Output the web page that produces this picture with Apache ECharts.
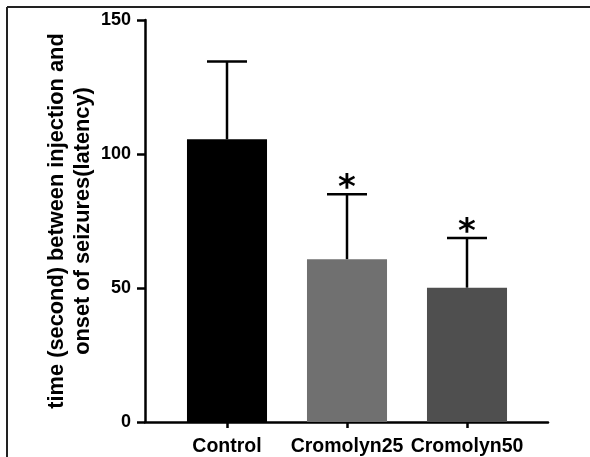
<!DOCTYPE html>
<html>
<head>
<meta charset="utf-8">
<script src="https://cdn.jsdelivr.net/npm/echarts@6/dist/echarts.min.js"></script>
<style>html,body{margin:0;padding:0;background:#fff}#c{width:590px;height:457px}</style>
</head>
<body>
<div id="c"></div>
<script>
var categories = ['Control', 'Cromolyn25', 'Cromolyn50'];
var means = [105.5, 60.7, 50.1];
var upperErrors = [29.0, 24.3, 18.6];
var significance = ['', '*', '*'];
var barColors = ['#000000', '#707070', '#4f4f4f'];
var yTicks = [0, 50, 100, 150];
var yTitle = 'time (second) between injection and\nonset of seizures(latency)';

var FONT = 'Liberation Sans, Arial, sans-serif';
var chart = echarts.init(document.getElementById('c'));

var errData = categories.map(function (c, i) { return [i, means[i], means[i] + upperErrors[i], significance[i]]; });

chart.setOption({
  animation: false,
  backgroundColor: '#fff',
  graphic: [
    { type: 'line', shape: { x1: 7, y1: 7, x2: 590, y2: 7 }, style: { stroke: '#222', lineWidth: 2 } },
    { type: 'line', shape: { x1: 7, y1: 7, x2: 7, y2: 457 }, style: { stroke: '#222', lineWidth: 2 } }
  ],
  grid: [
    { left: 145, right: 42, top: 20, bottom: 35 },
    { left: 167, right: 63, top: 20, bottom: 35 }
  ],
  xAxis: [
    { gridIndex: 0, type: 'value', min: 0, max: 1, axisLine: { show: true, onZero: false, lineStyle: { color: '#000', width: 2.5 } },
      axisTick: { show: false }, axisLabel: { show: false }, splitLine: { show: false } },
    { gridIndex: 1, type: 'category', data: categories,
      axisLine: { show: false }, axisTick: { show: true, alignWithLabel: true, length: 6, lineStyle: { color: '#000', width: 2.5 } },
      axisLabel: { margin: 15, color: '#000', fontFamily: FONT, fontWeight: 'bold', fontSize: 19.5, interval: 0 } }
  ],
  yAxis: [
    { gridIndex: 0, type: 'value', min: 0, max: 150, interval: 50,
      axisLine: { show: true, lineStyle: { color: '#000', width: 2.5 } },
      axisTick: { show: true, length: 8, lineStyle: { color: '#000', width: 2.5 } },
      axisLabel: { margin: 14, color: '#000', fontFamily: FONT, fontWeight: 'bold', fontSize: 18,
        formatter: function (v) { return yTicks.indexOf(v) >= 0 ? String(v) : ''; } },
      splitLine: { show: false },
      name: yTitle, nameLocation: 'middle', nameRotate: 90, nameGap: 49, nameMoveOverlap: false,
      nameTextStyle: { color: '#000', fontFamily: FONT, fontWeight: 'bold', fontSize: 21.8, lineHeight: 26, align: 'center' } },
    { gridIndex: 1, type: 'value', min: 0, max: 150, show: false }
  ],
  series: [
    { type: 'bar', xAxisIndex: 1, yAxisIndex: 1, barWidth: '66.7%',
      data: means.map(function (v, i) { return { value: v, itemStyle: { color: barColors[i] } }; }) },
    { type: 'custom', xAxisIndex: 1, yAxisIndex: 1, data: errData,
      renderItem: function (params, api) {
        var x = api.value(0);
        var pMean = api.coord([x, api.value(1)]);
        var pTop = api.coord([x, api.value(2)]);
        var band = api.size([1, 0])[0];
        var half = band / 6;
        var children = [
          { type: 'line', shape: { x1: pTop[0], y1: pMean[1], x2: pTop[0], y2: pTop[1] }, style: { stroke: '#000', lineWidth: 2.5 } },
          { type: 'line', shape: { x1: pTop[0] - half, y1: pTop[1], x2: pTop[0] + half, y2: pTop[1] }, style: { stroke: '#000', lineWidth: 2.5 } }
        ];
        var s = api.value(3);
        if (s) {
          children.push({ type: 'text', style: { text: s, x: pTop[0], y: pTop[1] - 5, align: 'center', verticalAlign: 'middle',
            font: 'bold 34px DejaVu Sans', fill: '#000' } });
        }
        return { type: 'group', children: children };
      } }
  ]
});
</script>
</body>
</html>
